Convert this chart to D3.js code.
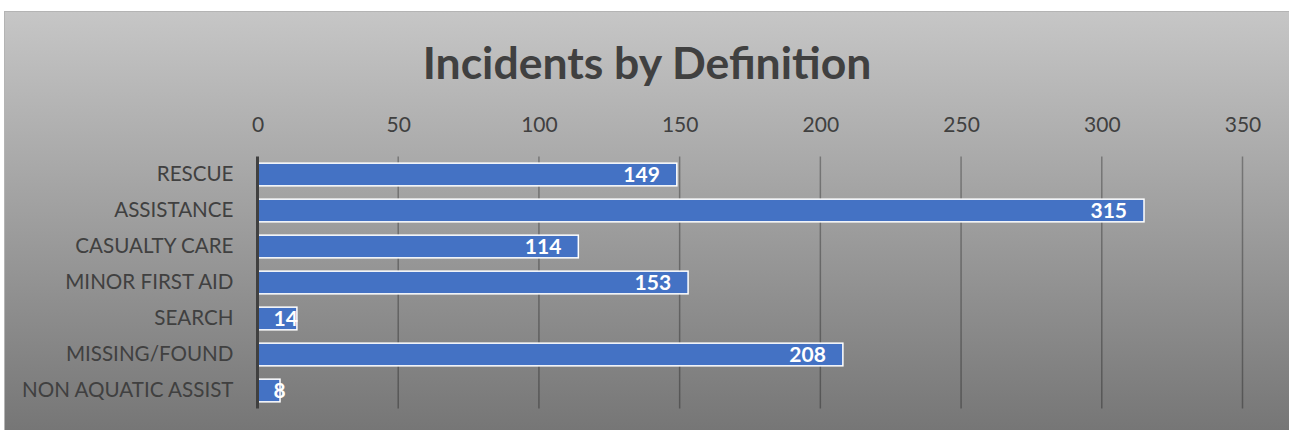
<!DOCTYPE html>
<html>
<head>
<meta charset="utf-8">
<script src="https://cdn.jsdelivr.net/npm/d3@7"></script>
<style>
  html, body { margin: 0; padding: 0; background: #fff; }
  svg { display: block; }
</style>
</head>
<body>
<div id="chart"></div>
<script>
const width = 1289;
const height = 430;

// data
const categories = ["RESCUE", "ASSISTANCE", "CASUALTY CARE", "MINOR FIRST AID", "SEARCH", "MISSING/FOUND", "NON AQUATIC ASSIST"];
const values = [149, 315, 114, 153, 14, 208, 8];
const ticks = [0, 50, 100, 150, 200, 250, 300, 350];
const title = "Incidents by Definition";

const font = "Lato, 'Open Sans', sans-serif";

const svg = d3.select("#chart")
    .append("svg")
    .attr("width", width)
    .attr("height", height);

// background gradient (light on top, dark at bottom)
const grad = svg.append("defs").append("linearGradient")
    .attr("id", "bg")
    .attr("x1", 0).attr("y1", 0).attr("x2", 0).attr("y2", 1);
grad.append("stop").attr("offset", "0%").attr("stop-color", "#c6c6c6");
grad.append("stop").attr("offset", "100%").attr("stop-color", "#767676");

svg.append("rect")
    .attr("x", 4.5).attr("y", 11.5)
    .attr("width", width - 4).attr("height", height - 11)
    .attr("fill", "url(#bg)")
    .attr("stroke", "#b4b4b4")
    .attr("stroke-width", 1);

const x = d3.scaleLinear()
    .domain([0, 350])
    .range([257.5, 1242.5]);

const y = d3.scaleBand()
    .domain(categories)
    .range([156.5, 408.5])
    .paddingInner(0.37)
    .paddingOuter(0.185);

// title
svg.append("text")
    .attr("x", 647)
    .attr("y", 79)
    .attr("text-anchor", "middle")
    .attr("font-family", font)
    .attr("font-weight", "bold")
    .attr("font-size", 44.5)
    .attr("fill", "#404040")
    .text(title);

// vertical gridlines
svg.append("g")
    .selectAll("line")
    .data(ticks.slice(1))
    .enter()
    .append("line")
    .attr("x1", d => x(d)).attr("x2", d => x(d))
    .attr("y1", y.range()[0]).attr("y2", y.range()[1])
    .attr("stroke", "#000")
    .attr("stroke-opacity", 0.3)
    .attr("stroke-width", 1.5);

// top axis tick labels
const axis = d3.axisTop(x).tickValues(ticks).tickSize(0).tickPadding(0);
const ax = svg.append("g")
    .attr("transform", "translate(0,132)")
    .call(axis);
ax.select(".domain").remove();
ax.selectAll("text")
    .attr("font-family", font)
    .attr("font-size", 21)
    .attr("fill", "#404040")
    .attr("dy", 0);

// bars
svg.append("g")
    .selectAll("rect")
    .data(values)
    .enter()
    .append("rect")
    .attr("x", x(0))
    .attr("y", (d, i) => y(categories[i]))
    .attr("width", d => x(d) - x(0))
    .attr("height", y.bandwidth())
    .attr("fill", "#4472c4")
    .attr("stroke", "#fff")
    .attr("stroke-width", 1.5);

// category labels
const yAxis = d3.axisLeft(y).tickSize(0).tickPadding(24);
const ya = svg.append("g")
    .attr("transform", `translate(${x(0)},0)`)
    .call(yAxis);
ya.select(".domain").remove();
ya.selectAll("text")
    .attr("font-family", font)
    .attr("font-size", 20.6)
    .attr("fill", "#404040");

// value axis line at zero
svg.append("line")
    .attr("x1", x(0)).attr("x2", x(0))
    .attr("y1", y.range()[0]).attr("y2", y.range()[1])
    .attr("stroke", "#404040")
    .attr("stroke-width", 3);

// value labels, inside end
svg.append("g")
    .selectAll("text")
    .data(values)
    .enter()
    .append("text")
    .attr("y", (d, i) => y(categories[i]) + y.bandwidth() / 2)
    .attr("dy", "0.36em")
    .attr("text-anchor", "end")
    .attr("font-family", font)
    .attr("font-weight", "bold")
    .attr("font-size", 21)
    .attr("fill", "#fff")
    .text(d => d)
    .attr("x", function (d) {
        const w = this.getComputedTextLength();
        return Math.max(x(d) - 17, x(0) + 16 + w);
    });
</script>
</body>
</html>
